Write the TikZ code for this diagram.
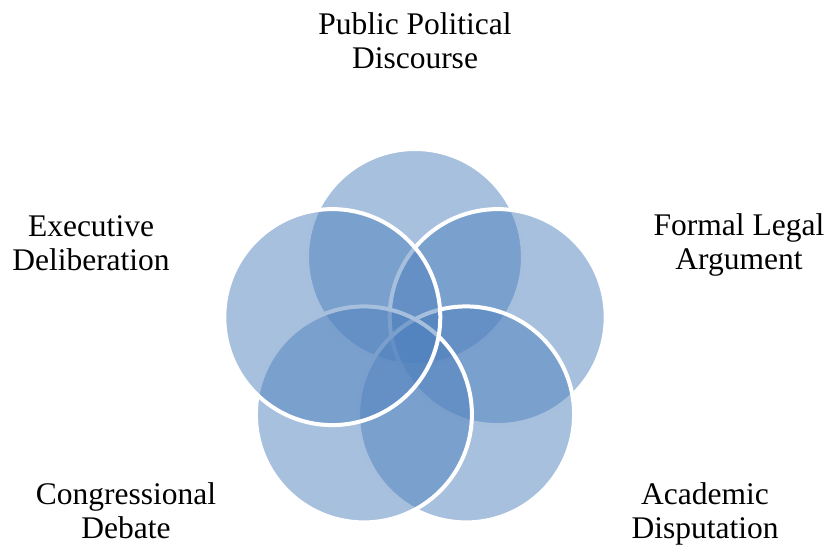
\documentclass[tikz,border=0pt]{standalone}
\usepackage{fontspec}
\setmainfont{Liberation Serif}
\definecolor{accblue}{RGB}{79,129,189}
\begin{document}
\begin{tikzpicture}[x=1pt,y=-1pt,
  vcirc/.style={circle, draw=white, line width=4pt, fill=accblue, fill opacity=0.5, draw opacity=1, minimum size=216pt, inner sep=0pt},
  lbl/.style={align=center, inner sep=0pt, font=\fontsize{31.5}{33.5}\selectfont, text=black, anchor=base}]
\useasboundingbox (0,0) rectangle (828,547);
\node[vcirc] (pub) at (415,257) {};
\node[vcirc] (leg) at (497.7,317.1) {};
\node[vcirc] (aca) at (466.1,414.4) {};
\node[vcirc] (con) at (363.9,414.4) {};
\node[vcirc] (exe) at (332.3,317.1) {};
\node[lbl] (tpub) at (415,68) {Public Political\\Discourse};
\node[lbl] (tleg) at (739,269) {Formal Legal\\Argument};
\node[lbl] (taca) at (705,538) {Academic\\Disputation};
\node[lbl] (tcon) at (126,538) {Congressional\\Debate};
\node[lbl] (texe) at (91,270) {Executive\\Deliberation};
\end{tikzpicture}
\end{document}
